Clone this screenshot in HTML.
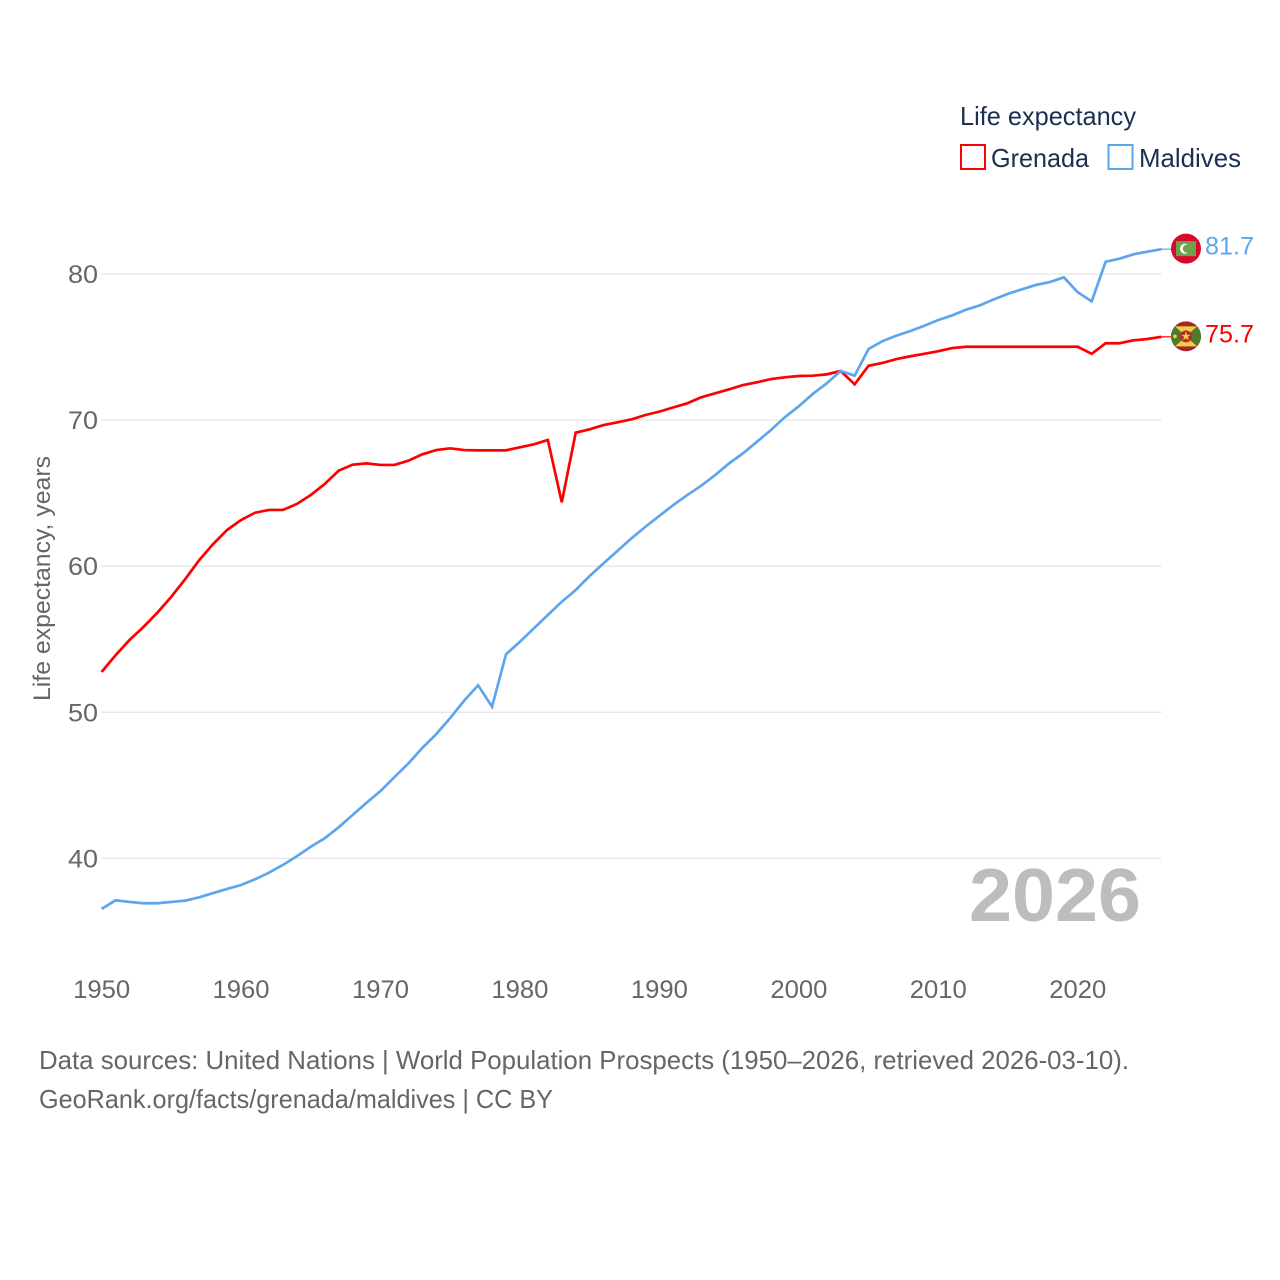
<!DOCTYPE html>
<html lang="en">
<head>
<meta charset="utf-8">
<title>Life expectancy: Grenada and Maldives</title>
<style>
html,body{margin:0;padding:0;background:#fff;}
svg{display:block;}
text{font-family:"Liberation Sans",sans-serif;}
</style>
</head>
<body>
<svg id="chart" xmlns="http://www.w3.org/2000/svg" width="1280" height="1280" viewBox="0 0 1280 1280">
  <rect width="1280" height="1280" fill="#fff"/>
  <g id="grid"></g>
  <g id="yticks"></g>
  <g id="xticks"></g>
  <text transform="translate(50,701) rotate(-90)" font-size="24" fill="#666" textLength="245" lengthAdjust="spacingAndGlyphs">Life expectancy, years</text>
  <text x="969" y="921" font-size="75" font-weight="bold" fill="#bdbdbd" textLength="172" lengthAdjust="spacingAndGlyphs">2026</text>
  <g id="series"></g>

  <g>
    <text x="960" y="125" font-size="26" fill="#1b3050" textLength="176" lengthAdjust="spacingAndGlyphs">Life expectancy</text>
    <g>
      <rect x="961" y="145" width="24" height="24" fill="#fff" stroke="#ff0000" stroke-width="2"/>
      <text x="991" y="167" font-size="26" fill="#1b3050" textLength="98" lengthAdjust="spacingAndGlyphs">Grenada</text>
    </g>
    <g>
      <rect x="1108.500" y="145" width="24" height="24" fill="#fff" stroke="#5da5ec" stroke-width="2"/>
      <text x="1139" y="167" font-size="26" fill="#1b3050" textLength="102" lengthAdjust="spacingAndGlyphs">Maldives</text>
    </g>
  </g>

  <g id="flag-maldives">
    <circle cx="0" cy="0" r="15" fill="#d9082f"/>
    <rect x="-10" y="-7.500" width="20" height="15" fill="#6fa04a"/>
    <circle cx="-1" cy="0" r="5" fill="#fff"/>
    <circle cx="1" cy="0" r="4.200" fill="#6fa04a"/>
  </g>
  <g id="flag-grenada">
    <clipPath id="grenada-clip"><circle cx="0" cy="0" r="15"/></clipPath>
    <g clip-path="url(#grenada-clip)">
      <rect x="-15" y="-15" width="30" height="30" fill="#a9252c"/>
      <rect x="-15" y="-10" width="30" height="20" fill="#4f7a2b"/>
      <polygon points="-11,-10 11,-10 0,0" fill="#f6cd45"/>
      <polygon points="-11,10 11,10 0,0" fill="#f6cd45"/>
      <circle cx="0" cy="0" r="6" fill="#b52a2a"/>
      <polygon points="0,-5 1.200,-1.500 4.800,-1.500 1.900,0.600 3,4 0,1.900 -3,4 -1.900,0.600 -4.800,-1.500 -1.200,-1.500" fill="#f6cd45"/>
      <circle cx="-11" cy="0" r="1.800" fill="#f6cd45"/>
    </g>
  </g>
  <g id="end-labels"></g>

  <text x="39" y="1069" font-size="26" fill="#666" textLength="1090" lengthAdjust="spacingAndGlyphs">Data sources: United Nations | World Population Prospects (1950–2026, retrieved 2026-03-10).</text>
  <text x="39" y="1108" font-size="26" fill="#666" textLength="514" lengthAdjust="spacingAndGlyphs">GeoRank.org/facts/grenada/maldives | CC BY</text>
</svg>
<script>
const startYear = 1950;
const xTickValues = [1950, 1960, 1970, 1980, 1990, 2000, 2010, 2020];
const yTickValues = [40, 50, 60, 70, 80];
const grenadaValues = [
  52.76, 53.9, 54.95, 55.84, 56.82, 57.91, 59.12, 60.42, 61.52, 62.48,
  63.16, 63.66, 63.85, 63.85, 64.26, 64.87, 65.63, 66.54, 66.95, 67.04,
  66.93, 66.93, 67.22, 67.66, 67.95, 68.07, 67.95, 67.93, 67.93, 67.93,
  68.14, 68.34, 68.64, 64.37, 69.14, 69.37, 69.66, 69.85, 70.05, 70.35,
  70.58, 70.87, 71.15, 71.56, 71.83, 72.11, 72.4, 72.59, 72.81, 72.93,
  73.02, 73.04, 73.13, 73.36, 72.45, 73.72, 73.91, 74.18, 74.37, 74.54,
  74.72, 74.93, 75.02, 75.02, 75.02, 75.02, 75.02, 75.02, 75.02, 75.02,
  75.02, 74.54, 75.26, 75.26, 75.46, 75.55, 75.7
];
const maldivesValues = [
  36.54, 37.13, 37.02, 36.93, 36.93, 37.02, 37.11, 37.34, 37.63, 37.91,
  38.18, 38.57, 39.02, 39.55, 40.15, 40.8, 41.38, 42.13, 42.97, 43.81,
  44.61, 45.57, 46.5, 47.56, 48.51, 49.61, 50.8, 51.85, 50.38, 53.97,
  54.83, 55.75, 56.66, 57.57, 58.37, 59.33, 60.2, 61.06, 61.91, 62.7,
  63.45, 64.19, 64.87, 65.51, 66.24, 67.04, 67.73, 68.52, 69.32, 70.2,
  70.95, 71.79, 72.52, 73.36, 73.04, 74.87, 75.41, 75.78, 76.1, 76.46,
  76.85, 77.17, 77.56, 77.86, 78.27, 78.65, 78.95, 79.25, 79.45, 79.77,
  78.75, 78.13, 80.84, 81.05, 81.35, 81.53, 81.7
];

const NS = 'http://www.w3.org/2000/svg';
const plotLeft = 101.6, pxPerYear = 13.945, yAt80 = 274, pxPerUnit = 14.61;
const plotRight = plotLeft + (grenadaValues.length - 1) * pxPerYear;
function xScale(year) { return plotLeft + (year - startYear) * pxPerYear; }
function yScale(value) { return yAt80 + (80 - value) * pxPerUnit; }
function make(tag, attrs, parent) {
  const el = document.createElementNS(NS, tag);
  for (const k in attrs) el.setAttribute(k, attrs[k]);
  parent.appendChild(el);
  return el;
}
const gridGroup = document.getElementById('grid');
const yGroup = document.getElementById('yticks');
const xGroup = document.getElementById('xticks');
const seriesGroup = document.getElementById('series');
const labelGroup = document.getElementById('end-labels');

yTickValues.forEach(function (v) {
  const line = make('line', { x1: plotLeft, x2: plotRight, y1: yScale(v), y2: yScale(v), stroke: '#e6e6e6', 'stroke-width': 1.3 }, gridGroup);
  
  
  const t = make('text', { x: 68, y: yScale(v) + 9, 'font-size': 25, fill: '#666', textLength: 30, lengthAdjust: 'spacingAndGlyphs' }, yGroup);
  
  
  t.textContent = v;
});
xTickValues.forEach(function (y) {
  const t = make('text', { x: xScale(y) - 28.5, y: 998, 'font-size': 25, fill: '#666', textLength: 57, lengthAdjust: 'spacingAndGlyphs' }, xGroup);
  
  
  t.textContent = y;
});
function pathFor(values) {
  return values.map(function (v, i) {
    return (i ? 'L' : 'M') + xScale(startYear + i).toFixed(2) + ' ' + yScale(v).toFixed(2);
  }).join('');
}
const grenadaLine = make('path', { d: pathFor(grenadaValues), fill: 'none', stroke: '#ff0000', 'stroke-width': 2.7, 'stroke-linejoin': 'miter' }, seriesGroup);


const maldivesLine = make('path', { d: pathFor(maldivesValues), fill: 'none', stroke: '#5da5ec', 'stroke-width': 2.7, 'stroke-linejoin': 'miter' }, seriesGroup);



function endMark(values, color, flagId) {
  const last = values[values.length - 1];
  const yy = yScale(last);
  const lead = make('line', { x1: plotRight, x2: 1172, y1: yy, y2: yy, stroke: color, 'stroke-width': 1.2 }, seriesGroup);
  
  
  document.getElementById(flagId).setAttribute('transform', 'translate(1186,' + (yy - 0.5).toFixed(2) + ')');
  const t = make('text', { x: 1205, y: yy + 5.5, 'font-size': 25, fill: color, textLength: 49, lengthAdjust: 'spacingAndGlyphs' }, labelGroup);
  
  
  t.textContent = last.toFixed(1);
}
endMark(maldivesValues, '#5da5ec', 'flag-maldives');
endMark(grenadaValues, '#ff0000', 'flag-grenada');
</script>
</body>
</html>
